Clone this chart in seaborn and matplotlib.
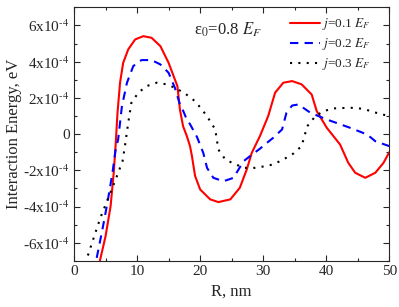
import numpy as np
import pandas as pd
import matplotlib
matplotlib.use("Agg")
import matplotlib.pyplot as plt
import matplotlib.ticker as ticker
import seaborn as sns

# ─── DATA (energies in units of 1e-4 eV) ──────────────────────────────────────
R_J01 = [4.1, 5.0, 5.8, 6.3, 6.6, 6.9, 7.3, 7.8, 8.6, 9.7, 11.0, 12.3, 13.7, 15.0,
         16.0, 16.4, 16.8, 17.3, 17.9, 18.4, 18.7, 19.2, 20.0, 21.6, 22.9, 24.8, 26.3,
         27.4, 28.2, 29.5, 30.8, 31.9, 33.2, 34.6, 36.1, 37.7, 38.5, 40.1, 42.2, 43.5,
         44.6, 46.2, 47.8, 49.1, 50.0]
E_J01 = [-7.0, -5.64, -3.98, -2.13, -0.6, 1.18, 2.84, 3.94, 4.68, 5.23, 5.41, 5.32, 4.86, 3.94,
         3.02, 2.65, 1.36, 0.44, -0.11, -0.66, -1.2, -2.3, -3.05, -3.6, -3.75, -3.6, -2.96,
         -1.95, -1.03, -0.1, 1.0, 2.29, 2.84, 2.93, 2.75, 2.19, 1.27, 0.35, -0.57, -1.58,
         -2.13, -2.41, -2.13, -1.58, -1.0]

R_J02 = [3.6, 4.5, 5.3, 6.1, 6.6, 7.0, 7.6, 8.4, 9.4, 10.7, 12.3, 13.7, 15.0, 16.0,
         16.8, 17.3, 17.9, 18.4, 19.5, 20.5, 21.1, 22.1, 23.7, 25.3, 26.1, 26.9, 27.9,
         29.5, 30.6, 31.6, 33.0, 33.7, 34.6, 35.6, 37.5, 40.1, 43.8, 46.5, 47.8, 50.0]
E_J02 = [-6.83, -5.27, -3.79, -2.13, -0.85, -0.29, 1.55, 2.84, 3.76, 4.09, 4.09, 3.85, 3.39, 2.56,
         1.64, 1.3, 0.8, 0.55, -0.15, -1.03, -1.86, -2.41, -2.6, -2.41, -1.95, -1.49, -1.22,
         -0.8, -0.48, -0.2, 0.26, 1.18, 1.58, 1.64, 1.18, 0.81, 0.35, -0.02, -0.39, -0.66]

R_J03 = [2.2, 3.2, 4.2, 5.4, 6.6, 7.7, 8.1, 8.6, 9.1, 10.2, 11.5, 13.1, 14.7, 16.0,
         17.6, 19.2, 20.5, 21.6, 22.4, 22.9, 24.0, 25.6, 27.1, 28.7, 30.3, 31.6, 33.2,
         34.8, 36.1, 37.0, 38.3, 39.6, 41.1, 43.8, 45.9, 47.5, 49.9]
E_J03 = [-6.7, -5.64, -4.6, -3.55, -2.5, -1.49, -0.6, 0.63, 1.73, 2.29, 2.65, 2.84, 2.75, 2.56,
         2.25, 1.82, 1.27, 0.72, 0.26, -0.85, -1.4, -1.67, -1.86, -1.86, -1.77, -1.67, -1.4,
         -1.07, -0.66, 0.44, 1.0, 1.27, 1.42, 1.46, 1.4, 1.22, 1.0]

LABELS = [r"$j$=0.1 $E_F$", r"$j$=0.2 $E_F$", r"$j$=0.3 $E_F$"]
SCALE = 1e-4

# ─── STYLE ────────────────────────────────────────────────────────────────────
sns.set_theme(style="ticks")
plt.rcParams["font.family"] = ["Liberation Serif", "DejaVu Serif"]
plt.rcParams["mathtext.fontset"] = "stix"
plt.rcParams["xtick.direction"] = "in"
plt.rcParams["ytick.direction"] = "in"

fig = plt.figure(figsize=(3.99, 3.07), dpi=100)
ax = fig.add_axes([0.1855, 0.15, 0.79, 0.826])

series = [
    (R_J01, E_J01, LABELS[0], "#ff0000", "-"),
    (R_J02, E_J02, LABELS[1], "#0000ff", (0, (4, 3))),
    (R_J03, E_J03, LABELS[2], "#000000", (0, (1, 3))),
]
for r, e, lab, col, ls in series:
    df = pd.DataFrame({"R": r, "E": np.array(e) * SCALE})
    sns.lineplot(data=df, x="R", y="E", sort=False, color=col, linewidth=1.5,
                 linestyle=ls, label=lab, ax=ax)
for ln in ax.get_lines():
    ln.set_solid_joinstyle("round")
    ln.set_dash_joinstyle("round")

ax.set_xlim(0, 50)
ax.set_ylim(-7e-4, 7e-4)
ax.xaxis.set_major_locator(ticker.MultipleLocator(10))
ax.xaxis.set_minor_locator(ticker.MultipleLocator(5))
ax.yaxis.set_major_locator(ticker.MultipleLocator(2e-4))
ax.yaxis.set_minor_locator(ticker.MultipleLocator(1e-4))


def fmt_y(v, _):
    n = int(round(v / SCALE))
    if n == 0:
        return "0"
    return r"%dx10$^{\text{-4}}$" % n


ax.yaxis.set_major_formatter(ticker.FuncFormatter(fmt_y))
ax.tick_params(which="both", top=True, right=True, labelsize=11, width=0.8, pad=3)
ax.tick_params(which="major", length=4)
ax.tick_params(which="minor", length=2.5)
for s in ax.spines.values():
    s.set_linewidth(0.8)

ax.set_xlabel("R, nm", fontsize=12)
ax.set_ylabel("Interaction Energy, eV", fontsize=12)
ax.xaxis.set_label_coords(0.5, -0.09)
ax.yaxis.set_label_coords(-0.165, 0.5)

ax.text(19.0, 5.5e-4, "\u03b5" + r"$_{\mathit{0}}$=0.8 $E_F$", fontsize=12)

ax.legend(loc="upper right", bbox_to_anchor=(0.95, 0.975), frameon=False,
          fontsize=9.5, handlelength=2.3, handletextpad=0.15, labelspacing=0.3,
          borderaxespad=0, borderpad=0.2)

fig.savefig("out.png", dpi=100)
